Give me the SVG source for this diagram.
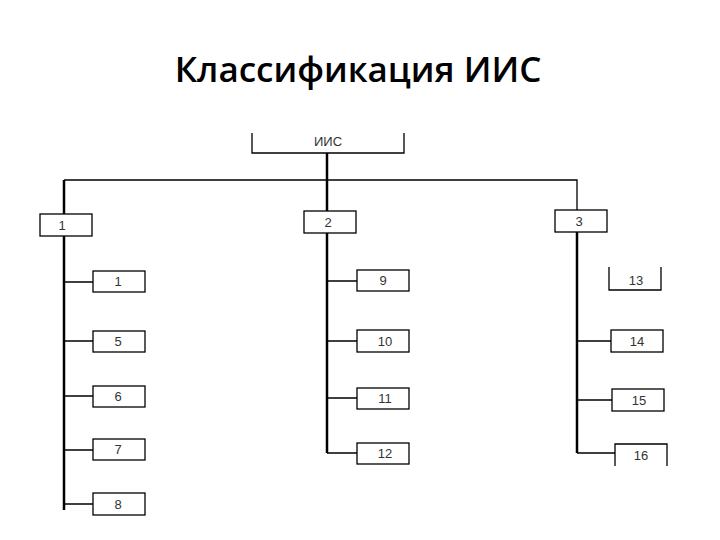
<svg xmlns="http://www.w3.org/2000/svg" width="720" height="540" viewBox="0 0 720 540">
<style>
.b{fill:#fff;stroke:#000;stroke-width:1.3}
.t{font-family:"Liberation Sans",Arial,sans-serif;font-size:13px;fill:#333;text-anchor:middle}
.c{stroke:#000;stroke-width:1.3;fill:none}
.k{stroke:#000;stroke-width:2.5;fill:none}
</style>
<rect width="720" height="540" fill="#fff"/>
<text x="358" y="82" font-family="'Open Sans',sans-serif" font-size="35" font-weight="600" text-anchor="middle" fill="#000">Классификация ИИС</text>
<g id="connectors">
<path class="k" d="M327 153V211M64 180V510M327 233V453M577 232V453"/>
<path class="c" d="M64 180H577V210M64 282H93M64 341H93M64 396H93M64 450H93M64 504H93M327 281H357M327 341H357M327 398H357M327 453H357M577 341H611M577 400H612M577 453H615"/>
</g>
<g id="n0"><path class="c" d="M252 133V153H404V133"/><text class="t" x="328" y="146">ИИС</text></g>
<g id="n1"><rect class="b" x="40" y="214" width="52" height="22"/><text class="t" x="62" y="230">1</text></g>
<g id="n2"><rect class="b" x="304" y="211" width="52" height="22"/><text class="t" x="328" y="227">2</text></g>
<g id="n3"><rect class="b" x="555" y="210" width="52" height="22"/><text class="t" x="579" y="226">3</text></g>
<g id="n1a"><rect class="b" x="93" y="271" width="52" height="21"/><text class="t" x="118" y="286">1</text></g>
<g id="n5"><rect class="b" x="93" y="331" width="52" height="21"/><text class="t" x="118" y="346">5</text></g>
<g id="n6"><rect class="b" x="93" y="386" width="52" height="21"/><text class="t" x="118" y="401">6</text></g>
<g id="n7"><rect class="b" x="93" y="439" width="52" height="21"/><text class="t" x="118" y="454">7</text></g>
<g id="n8"><rect class="b" x="93" y="493" width="52" height="22"/><text class="t" x="118" y="509">8</text></g>
<g id="n9"><rect class="b" x="357" y="270" width="52" height="21"/><text class="t" x="383" y="285">9</text></g>
<g id="n10"><rect class="b" x="357" y="330" width="52" height="22"/><text class="t" x="385" y="346">10</text></g>
<g id="n11"><rect class="b" x="357" y="388" width="52" height="21"/><text class="t" x="385" y="403">11</text></g>
<g id="n12"><rect class="b" x="357" y="443" width="52" height="21"/><text class="t" x="385" y="458">12</text></g>
<g id="n13"><path class="c" d="M609 267V290H661V267"/><text class="t" x="636" y="285">13</text></g>
<g id="n14"><rect class="b" x="611" y="330" width="52" height="22"/><text class="t" x="637" y="346">14</text></g>
<g id="n15"><rect class="b" x="612" y="389" width="52" height="22"/><text class="t" x="639" y="405">15</text></g>
<g id="n16"><path class="c" d="M615 466V444H667V466"/><text class="t" x="641" y="460">16</text></g>
</svg>
